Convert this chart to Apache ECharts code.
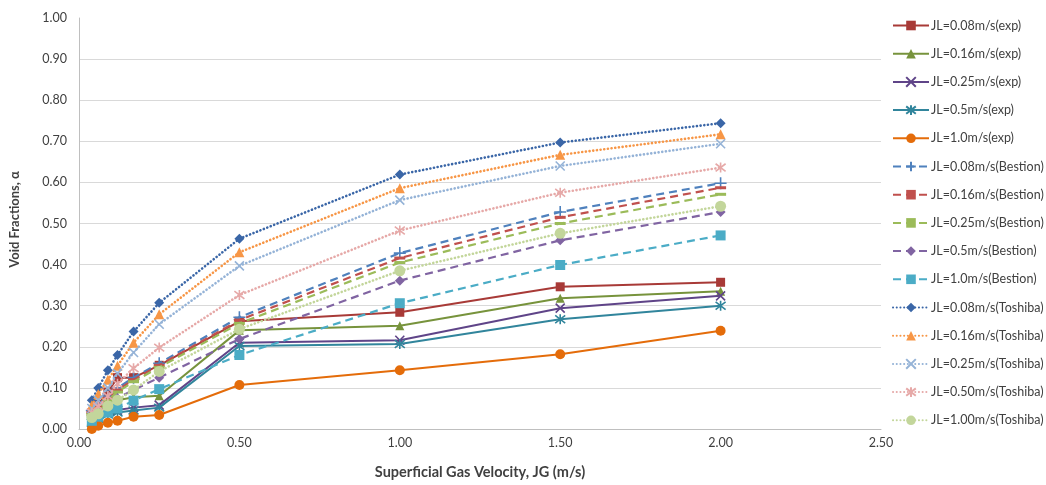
<!DOCTYPE html>
<html>
<head>
<meta charset="utf-8">
<script src="https://cdn.jsdelivr.net/npm/echarts@6/dist/echarts.min.js"></script>
<style>html,body{margin:0;padding:0;background:#fff;}#c{width:1046px;height:485px;}</style>
</head>
<body>
<div id="c"></div>
<script>
// Superficial gas velocity JG (m/s)
const jg = [0.04, 0.06, 0.09, 0.12, 0.17, 0.25, 0.5, 1.0, 1.5, 2.0];

// Experimental void fractions
const exp008 = [0.040, 0.060, 0.090, 0.125, 0.125, 0.155, 0.262, 0.284, 0.346, 0.357];
const exp016 = [0.030, 0.045, 0.060, 0.070, 0.077, 0.081, 0.240, 0.251, 0.318, 0.335];
const exp025 = [0.020, 0.030, 0.040, 0.046, 0.052, 0.058, 0.210, 0.216, 0.294, 0.324];
const exp05  = [0.015, 0.025, 0.035, 0.040, 0.045, 0.052, 0.202, 0.207, 0.267, 0.300];
const exp10  = [0.000, 0.008, 0.015, 0.020, 0.030, 0.034, 0.107, 0.143, 0.182, 0.239];

// Bestion correlation
const bes008 = [0.045, 0.060, 0.080, 0.100, 0.125, 0.160, 0.272, 0.428, 0.528, 0.598];
const bes016 = [0.040, 0.055, 0.075, 0.095, 0.120, 0.155, 0.265, 0.416, 0.515, 0.587];
const bes025 = [0.035, 0.050, 0.070, 0.090, 0.115, 0.150, 0.257, 0.405, 0.500, 0.571];
const bes05  = [0.030, 0.040, 0.055, 0.075, 0.095, 0.125, 0.219, 0.361, 0.459, 0.528];
const bes10  = [0.020, 0.030, 0.040, 0.050, 0.069, 0.097, 0.180, 0.306, 0.399, 0.471];

// Toshiba correlation
const tos008 = [0.070, 0.100, 0.143, 0.180, 0.237, 0.307, 0.463, 0.619, 0.697, 0.744];
const tos016 = [0.058, 0.085, 0.120, 0.154, 0.210, 0.279, 0.430, 0.586, 0.667, 0.717];
const tos025 = [0.050, 0.070, 0.100, 0.135, 0.186, 0.255, 0.397, 0.557, 0.640, 0.694];
const tos050 = [0.040, 0.055, 0.080, 0.110, 0.148, 0.198, 0.326, 0.483, 0.575, 0.636];
const tos100 = [0.028, 0.037, 0.056, 0.070, 0.095, 0.140, 0.243, 0.385, 0.476, 0.542];

const seriesNames = [
  'JL=0.08m/s(exp)', 'JL=0.16m/s(exp)', 'JL=0.25m/s(exp)', 'JL=0.5m/s(exp)', 'JL=1.0m/s(exp)',
  'JL=0.08m/s(Bestion)', 'JL=0.16m/s(Bestion)', 'JL=0.25m/s(Bestion)', 'JL=0.5m/s(Bestion)', 'JL=1.0m/s(Bestion)',
  'JL=0.08m/s(Toshiba)', 'JL=0.16m/s(Toshiba)', 'JL=0.25m/s(Toshiba)', 'JL=0.50m/s(Toshiba)', 'JL=1.00m/s(Toshiba)'
];
const seriesValues = [exp008, exp016, exp025, exp05, exp10,
  bes008, bes016, bes025, bes05, bes10,
  tos008, tos016, tos025, tos050, tos100];

const yTicks = [0, 0.1, 0.2, 0.3, 0.4, 0.5, 0.6, 0.7, 0.8, 0.9, 1.0];
const xTicks = [0, 0.5, 1.0, 1.5, 2.0, 2.5];

// ---- styling (kept separate from data) ----
const X_PATH = 'path://M0,0 L10,10 M10,0 L0,10';
const STAR_PATH = 'path://M0,0 L10,10 M10,0 L0,10 M5,-1.5 L5,11.5';
const PLUS_PATH = 'path://M5,0 L5,10 M0,5 L10,5';
const styles = [
  {c:'#A83A37', t:'solid', s:'rect', sz:9},
  {c:'#77933C', t:'solid', s:'triangle', sz:9},
  {c:'#5F4488', t:'solid', s:X_PATH, sz:9, stroke:true},
  {c:'#31859C', t:'solid', s:STAR_PATH, sz:10, stroke:true},
  {c:'#E46C0A', t:'solid', s:'circle', sz:10},
  {c:'#4F81BD', t:'dashed', s:PLUS_PATH, sz:12, stroke:true},
  {c:'#C0504D', t:'dashed', s:'rect', sz:[11,3]},
  {c:'#9BBB59', t:'dashed', s:'rect', sz:[11,3]},
  {c:'#8064A2', t:'dashed', s:'diamond', sz:10},
  {c:'#4BACC6', t:'dashed', s:'rect', sz:10},
  {c:'#3A66A7', t:'dotted', s:'diamond', sz:10},
  {c:'#F79646', t:'dotted', s:'triangle', sz:10},
  {c:'#95B3D7', t:'dotted', s:X_PATH, sz:9, stroke:true},
  {c:'#E6A9A8', t:'dotted', s:STAR_PATH, sz:10, stroke:true},
  {c:'#C3D69B', t:'dotted', s:'circle', sz:11}
];

const series = seriesValues.map((vals, i) => {
  const st = styles[i];
  let lineType = 'solid', w = 2, cap = 'butt';
  if (st.t === 'dashed') { lineType = [8, 5]; w = 2.2; }
  if (st.t === 'dotted') { lineType = [0.1, 3.6]; w = 2.6; cap = 'round'; }
  return {
    name: seriesNames[i],
    type: 'line',
    data: jg.map((x, k) => [x, vals[k]]),
    symbol: st.s,
    symbolSize: st.sz,
    showAllSymbol: true,
    lineStyle: {color: st.c, width: w, type: lineType, cap: cap},
    itemStyle: st.stroke
      ? {color: st.c, borderColor: st.c, borderWidth: 1.6}
      : {color: st.c, borderColor: st.c, borderWidth: 0},
    emphasis: {disabled: true},
    animation: false,
    z: 2 + i
  };
});

const chart = echarts.init(document.getElementById('c'), null, {renderer: 'canvas'});
const gridColors = yTicks.map((v, i) => i === yTicks.length - 1 ? 'rgba(0,0,0,0)' : '#D9D9D9');
chart.setOption({
  backgroundColor: '#ffffff',
  animation: false,
  textStyle: {fontFamily: 'Lato, "Open Sans", sans-serif'},
  grid: {left: 77, right: 165, top: 18, bottom: 56, containLabel: false},
  legend: {
    orient: 'vertical',
    left: 892,
    top: 19,
    padding: 0,
    itemWidth: 36,
    itemHeight: 12,
    itemGap: 15.2,
    data: seriesNames,
    textStyle: {fontSize: 12.5, lineHeight: 12, color: '#404040', fontFamily: 'Lato, sans-serif', padding: [0, 0, 0, -3]},
    selectedMode: false
  },
  xAxis: {
    type: 'value',
    min: xTicks[0],
    max: xTicks[xTicks.length - 1],
    interval: 0.5,
    name: 'Superficial Gas Velocity, JG (m/s)',
    nameLocation: 'middle',
    nameGap: 36,
    nameTextStyle: {fontSize: 14.5, fontWeight: 'bold', color: '#404040'},
    axisLine: {show: true, lineStyle: {color: '#BFBFBF', width: 1}},
    axisTick: {show: false},
    axisLabel: {formatter: v => v.toFixed(2), fontSize: 12.5, color: '#404040', margin: 7},
    splitLine: {show: false}
  },
  yAxis: {
    type: 'value',
    min: yTicks[0],
    max: yTicks[yTicks.length - 1],
    interval: 0.1,
    name: 'Void Fractions, \u03b1',
    nameLocation: 'middle',
    nameGap: 58,
    nameRotate: 90,
    nameTextStyle: {fontSize: 13, fontWeight: 'bold', color: '#404040', padding: [0, 0, 0, 8]},
    axisLine: {show: true, lineStyle: {color: '#BFBFBF', width: 1}},
    axisTick: {show: false},
    axisLabel: {formatter: v => v.toFixed(2), fontSize: 12.5, color: '#404040', margin: 12},
    splitLine: {show: true, lineStyle: {color: gridColors, width: 1}}
  },
  series: series
});
</script>
</body>
</html>
